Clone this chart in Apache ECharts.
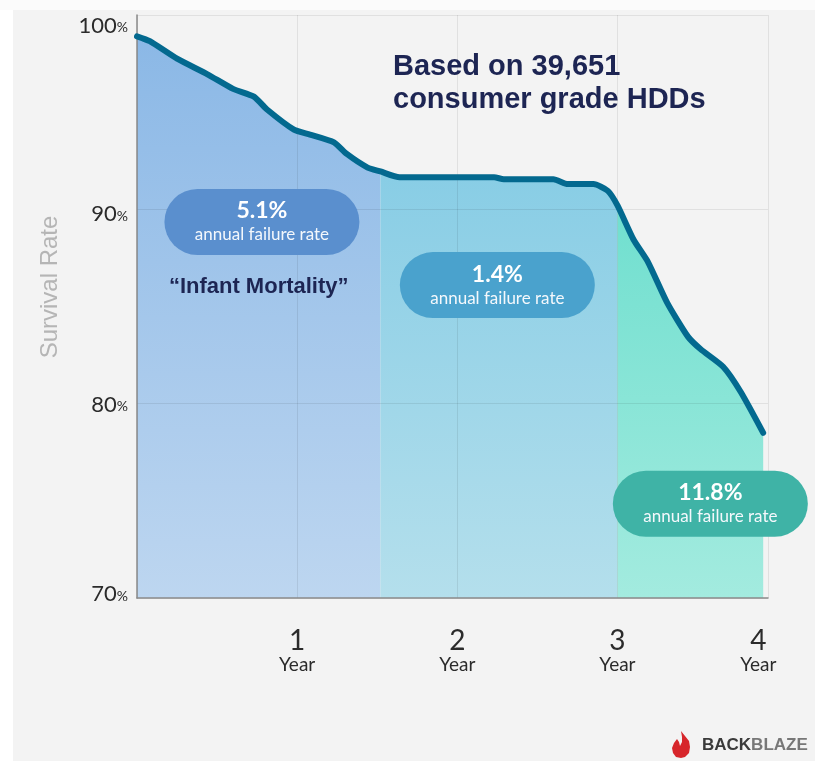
<!DOCTYPE html>
<html>
<head>
<meta charset="utf-8">
<script src="https://cdn.jsdelivr.net/npm/echarts@6/dist/echarts.min.js"></script>
<style>html,body{margin:0;padding:0;background:#fff}#c{width:815px;height:761px}</style>
</head>
<body>
<div id="c"></div>
<script>
// ---- data ----
const years = [0.0, 0.08, 0.25, 0.44, 0.6, 0.73, 0.81, 0.98, 1.08, 1.23, 1.31, 1.44, 1.52, 1.64, 2.23, 2.29, 2.6, 2.69, 2.85, 2.94, 3.0, 3.1, 3.19, 3.31, 3.44, 3.52, 3.66, 3.77, 3.91];
const survival = [98.9, 98.65, 97.75, 96.95, 96.2, 95.8, 95.15, 94.1, 93.85, 93.45, 92.85, 92.15, 91.95, 91.65, 91.65, 91.55, 91.55, 91.3, 91.3, 90.95, 90.2, 88.45, 87.3, 85.2, 83.45, 82.8, 81.9, 80.6, 78.5];
const phaseBounds = [0, 1.52, 3.0, 3.91];
const phaseRates = ['5.1%', '1.4%', '11.8%'];
const yTickLabels = [70, 80, 90, 100];
const yTickPositions = [70.45, 80.2, 90.0, 99.7];
const xTickLabels = [1, 2, 3, 4];
const xTickPositions = [1, 2, 3, 3.88];

const pts = years.map((x, i) => [x, survival[i]]);
const seg = (a, b) => pts.filter(p => p[0] >= a && p[0] <= b);

const fills = [
  ['#8bb8e6', '#bdd6f0'],
  ['#88cde5', '#b4dfec'],
  ['#70dfcf', '#a3ebdf']
];
const pillColors = ['#5a8fce', '#4aa2cd', '#3fb3a6'];
const pillPos = [[0.78, 89.35], [2.25, 86.1], [3.58, 74.85]];

const areaSeries = fills.map((c, i) => ({
  type: 'line',
  data: seg(phaseBounds[i], phaseBounds[i + 1]),
  smooth: 0.2,
  symbol: 'none',
  lineStyle: { width: 0 },
  areaStyle: {
    origin: 'start',
    opacity: 1,
    color: { type: 'linear', x: 0, y: 0, x2: 0, y2: 1, colorStops: [{ offset: 0, color: c[0] }, { offset: 1, color: c[1] }] }
  },
  z: 2,
  silent: true
}));

const chart = echarts.init(document.getElementById('c'), null, { renderer: 'canvas' });
const option = {
  backgroundColor: '#f3f3f3',
  animation: false,
  title: {
    text: 'Based on 39,651\nconsumer grade HDDs',
    left: 393, top: 50, padding: 0,
    textStyle: { fontFamily: 'Liberation Sans, Arial, sans-serif', fontSize: 29, fontWeight: 'bold', color: '#1d2553', lineHeight: 33 }
  },
  grid: { left: 137, top: 15, right: 47, bottom: 163, containLabel: false },
  xAxis: {
    type: 'value', min: 0, max: 3.94, interval: 1, z: 3,
    axisLine: { show: true, lineStyle: { color: '#8a8a8a', width: 1.5 } },
    axisTick: { show: false },
    splitLine: { show: true, lineStyle: { color: 'rgba(0,0,0,0.08)', width: 1 } },
    axisLabel: {
      customValues: xTickPositions,
      margin: 29,
      formatter: v => '{n|' + xTickLabels[xTickPositions.indexOf(v)] + '}\n{y|Year}',
      rich: {
        n: { fontFamily: 'Lato, sans-serif', fontSize: 28, color: '#2b2b2b', lineHeight: 28, align: 'center' },
        y: { fontFamily: 'Lato, sans-serif', fontSize: 19, color: '#2b2b2b', lineHeight: 20, align: 'center' }
      }
    }
  },
  yAxis: {
    type: 'value', min: 70, max: 100, interval: 10, z: 3,
    axisLine: { show: true, lineStyle: { color: '#8a8a8a', width: 1.5 } },
    axisTick: { show: false },
    splitLine: { show: true, lineStyle: { color: 'rgba(0,0,0,0.08)', width: 1 } },
    axisLabel: {
      margin: 9,
      padding: [8, 0, 0, 0],
      customValues: yTickPositions,
      formatter: v => '{n|' + yTickLabels[yTickPositions.indexOf(v)] + '}{p|%}',
      rich: {
        n: { fontFamily: 'Lato, sans-serif', fontSize: 22, color: '#2b2b2b', lineHeight: 24, verticalAlign: 'bottom' },
        p: { fontFamily: 'Lato, sans-serif', fontSize: 14, color: '#2b2b2b', lineHeight: 24, verticalAlign: 'bottom', padding: [0, 0, 2, 0] }
      }
    }
  },
  graphic: [
    { type: 'rect', left: 0, top: 0, z: -10, shape: { width: 13, height: 761 }, style: { fill: '#ffffff' } },
    { type: 'rect', left: 0, top: 0, z: -10, shape: { width: 815, height: 10 }, style: { fill: '#fbfbfb' } },
    {
      type: 'text', x: 50, y: 287, rotation: Math.PI / 2,
      style: { text: 'Survival Rate', font: '24px Lato, sans-serif', fontSize: 24, fill: '#b5b5b5', align: 'center', verticalAlign: 'middle' }
    },
    {
      type: 'polygon', x: 672, y: 731, z: 10,
      shape: { points: [[9,0],[13,5],[17,10],[18,16],[17,22],[13,26],[9,27],[4,26],[1,22],[0,17],[2,12],[5,8],[7,11],[8,15],[10,11],[10,6]] },
      style: { fill: '#d7262b' }
    },
    {
      type: 'text', x: 702, y: 745, z: 10,
      style: {
        text: '{a|BACK}{b|BLAZE}', verticalAlign: 'middle',
        rich: {
          a: { fontFamily: 'Liberation Sans, Arial, sans-serif', fontSize: 17, fontWeight: 'bold', fill: '#3a3a3a' },
          b: { fontFamily: 'Liberation Sans, Arial, sans-serif', fontSize: 17, fontWeight: 'bold', fill: '#777777' }
        }
      }
    }
  ],
  series: areaSeries.concat([{
    type: 'line',
    data: pts,
    smooth: 0.2,
    symbol: 'none',
    z: 5,
    lineStyle: { color: '#03698f', width: 6, cap: 'round', join: 'round' },
    markPoint: {
      symbol: 'circle', symbolSize: 0, silent: true,
      data: phaseRates.map((r, i) => ({
        coord: pillPos[i],
        label: {
          show: true, position: 'inside',
          formatter: '{a|' + r + '}\n{b|annual failure rate}',
          backgroundColor: pillColors[i], borderRadius: 33,
          width: 195, padding: [9, 0, 9, 0], align: 'center',
          rich: {
            a: { fontFamily: 'Lato, sans-serif', fontSize: 23, fontWeight: 'bold', color: '#ffffff', lineHeight: 26, align: 'center' },
            b: { fontFamily: 'Lato, sans-serif', fontSize: 17, color: '#f4f8fc', lineHeight: 22, align: 'center' }
          }
        }
      })).concat([{
        coord: [0.76, 86.0],
        label: {
          show: true, position: 'inside',
          formatter: '\u201cInfant Mortality\u201d',
          fontFamily: 'Liberation Sans, Arial, sans-serif', fontSize: 22, fontWeight: 'bold', color: '#1d2553'
        }
      }])
    }
  }])
};
chart.setOption(option);
</script>
</body>
</html>
